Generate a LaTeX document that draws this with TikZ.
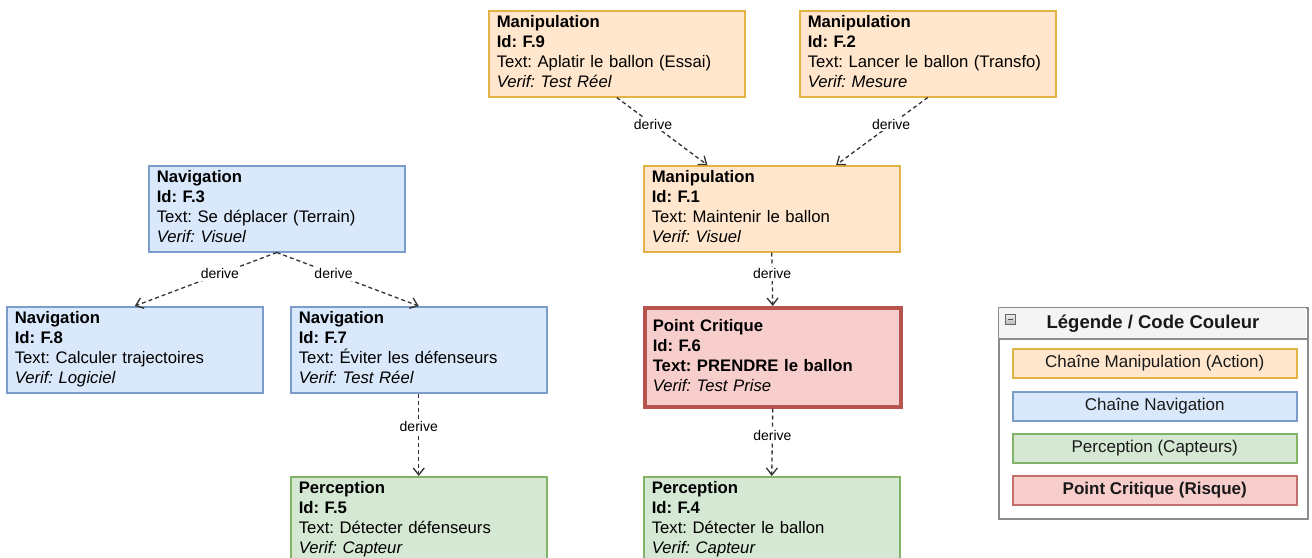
\documentclass[tikz,border=0pt]{standalone}
\usepackage{fontspec}
\setmainfont{Liberation Sans}
\usetikzlibrary{arrows.meta,calc}
\frenchspacing

\definecolor{manifill}{HTML}{FFE6CC}
\definecolor{manidraw}{HTML}{E2B345}
\definecolor{navfill}{HTML}{DAE8FC}
\definecolor{navdraw}{HTML}{7C9CCB}
\definecolor{percfill}{HTML}{D5E8D4}
\definecolor{percdraw}{HTML}{82B366}
\definecolor{critfill}{HTML}{F8CECC}
\definecolor{critdraw}{HTML}{B85450}
\definecolor{legdraw}{HTML}{8C8C8C}
\definecolor{leghead}{HTML}{F4F4F4}
\definecolor{edgecol}{HTML}{333333}

\newcommand{\reqfont}{\fontsize{16.7}{20}\selectfont}
\newcommand{\reqcard}[4]{\strut\textbf{#1}\\\textbf{Id: #2}\\#3\\\textit{Verif: #4}\strut}

\tikzset{
  reqbox/.style={draw, rectangle, line width=1.5pt, anchor=north west,
    minimum width=256pt, minimum height=86pt, text width=240pt,
    inner xsep=8pt, inner ysep=0pt, align=left, font=\reqfont, text=black},
  mani/.style={reqbox, fill=manifill, draw=manidraw},
  nav/.style={reqbox, fill=navfill, draw=navdraw},
  perc/.style={reqbox, fill=percfill, draw=percdraw},
  crit/.style={reqbox, fill=critfill, draw=critdraw, line width=3.5pt, minimum height=99pt},
  derive/.style={draw=edgecol, line width=1.3pt, dash pattern=on 4pt off 3pt,
    -{Straight Barb[length=7pt,width=11pt,line width=1.3pt]}},
  lab/.style={fill=white, inner sep=1.5pt, font=\fontsize{14}{16}\selectfont, text=black, pos=.4},
  legitem/.style={draw, rectangle, line width=1.5pt, anchor=north west,
    minimum width=284pt, minimum height=29pt, inner sep=0pt,
    font=\fontsize{17}{20}\selectfont, text=black!90}
}

\begin{document}
\begin{tikzpicture}[x=1pt,y=-1pt]
  \useasboundingbox (0,0) rectangle (1312,557);
  \fill[white] (0,0) rectangle (1312,557);
  \clip (0,0) rectangle (1312,557);

  % Manipulation chain
  \node[mani] (f9) at (488,10) {\reqcard{Manipulation}{F.9}{Text: Aplatir le ballon (Essai)}{Test Réel}};
  \node[mani] (f2) at (799,10) {\reqcard{Manipulation}{F.2}{Text: Lancer le ballon (Transfo)}{Mesure}};
  \node[mani] (f1) at (643,165) {\reqcard{Manipulation}{F.1}{Text: Maintenir le ballon}{Visuel}};
  \node[crit] (f6) at (643,306) {\reqcard{Point Critique}{F.6}{\textbf{Text: PRENDRE le ballon}}{Test Prise}};
  \node[perc] (f4) at (643,476) {\reqcard{Perception}{F.4}{Text: Détecter le ballon}{Capteur}};

  % Navigation chain
  \node[nav] (f3) at (148,165) {\reqcard{Navigation}{F.3}{Text: Se déplacer (Terrain)}{Visuel}};
  \node[nav] (f8) at (6,306) {\reqcard{Navigation}{F.8}{Text: Calculer trajectoires}{Logiciel}};
  \node[nav] (f7) at (290,306) {\reqcard{Navigation}{F.7}{Text: Éviter les défenseurs}{Test Réel}};
  \node[perc] (f5) at (290,476) {\reqcard{Perception}{F.5}{Text: Détecter défenseurs}{Capteur}};

  % Derivation links
  \draw[derive] (f9.south) -- node[lab]{derive} ($(f1.north west)!.25!(f1.north east)$);
  \draw[derive] (f2.south) -- node[lab]{derive} ($(f1.north west)!.75!(f1.north east)$);
  \draw[derive] (f1.south) -- node[lab]{derive} (f6.north);
  \draw[derive] (f6.south) -- node[lab]{derive} (f4.north);
  \draw[derive] (f3.south) -- node[lab]{derive} (f8.north);
  \draw[derive] (f3.south) -- node[lab]{derive} (f7.north);
  \draw[derive] (f7.south) -- node[lab]{derive} (f5.north);

  % Legend
  \node[draw=legdraw, fill=white, line width=1.8pt, rectangle, anchor=north west,
        minimum width=309pt, minimum height=211pt, inner sep=0pt] (legend) at (998,307) {};
  \fill[leghead] ($(legend.north west)+(0.9,0.9)$) rectangle (1306.1,339);
  \draw[legdraw, line width=1.5pt] (998,339) -- (1307,339);
  \node[font=\fontsize{18.5}{20}\selectfont\bfseries, text=black!90] (legtitle) at (1153,324) {Légende / Code Couleur};
  \node[draw=gray!80!black, line width=0.8pt, top color=gray!15, bottom color=gray!55,
        minimum size=10pt, inner sep=0pt, anchor=north west] (collapse) at (1005,314) {};
  \draw[black!70, line width=1.6pt] ($(collapse.west)+(2.5,0)$) -- ($(collapse.east)+(-2.5,0)$);

  \node[legitem, fill=manifill, draw=manidraw] (lmani) at (1012,348) {Chaîne Manipulation (Action)};
  \node[legitem, fill=navfill, draw=navdraw] (lnav) at (1012,391) {Chaîne Navigation};
  \node[legitem, fill=percfill, draw=percdraw] (lperc) at (1012,433) {Perception (Capteurs)};
  \node[legitem, fill=critfill, draw=critdraw!85, font=\fontsize{17}{20}\selectfont\bfseries] (lcrit) at (1012,475) {Point Critique (Risque)};
\end{tikzpicture}
\end{document}
